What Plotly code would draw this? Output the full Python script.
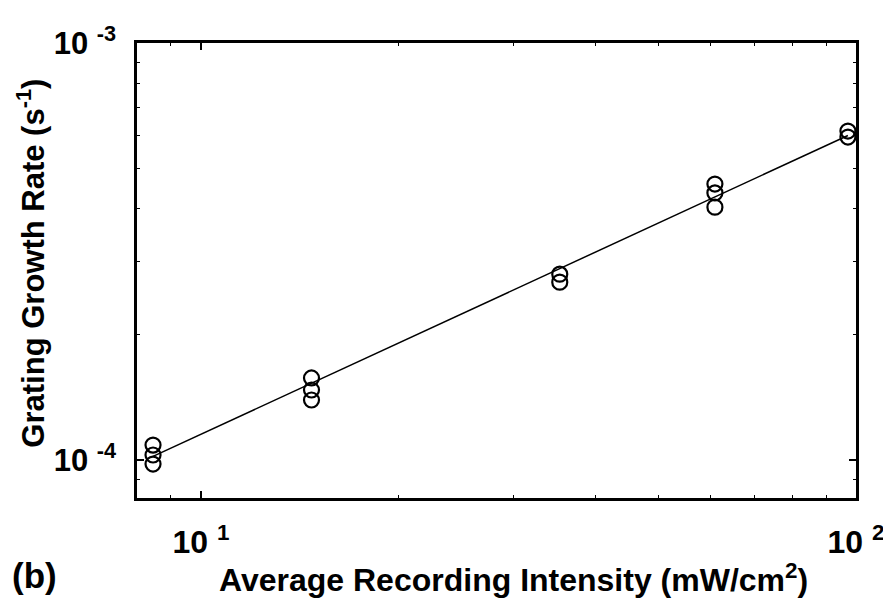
import plotly.graph_objects as go

# Measured data (intensity in mW/cm^2, growth rate in 1/s)
intensity = [8.45, 8.45, 8.45,
             14.75, 14.75, 14.75,
             35.3, 35.3,
             60.9, 60.9, 60.9,
             97.2, 97.2]
growth_rate = [1.086e-4, 1.028e-4, 0.978e-4,
               1.573e-4, 1.472e-4, 1.393e-4,
               2.79e-4, 2.67e-4,
               4.59e-4, 4.37e-4, 4.04e-4,
               6.15e-4, 5.95e-4]

# Power-law fit line endpoints
fit_intensity = [8.45, 97.2]
fit_rate = [1.02e-4, 6.0e-4]

x_tickvals = [10, 100]
x_ticktext = ["<b>10 <sup>1</sup></b>", "<b>10 <sup>2</sup></b>"]
x_minor = [9, 20, 30, 40, 50, 60, 70, 80, 90]
y_tickvals = [1e-4, 1e-3]
y_ticktext = ["<b>10 <sup>-4</sup></b>", "<b>10 <sup>-3</sup></b>"]
y_minor = [9e-5, 2e-4, 3e-4, 4e-4, 5e-4, 6e-4, 7e-4, 8e-4, 9e-4]

FONT = "Liberation Sans, Arial, Helvetica, sans-serif"

fig = go.Figure()
fig.add_trace(go.Scatter(
    x=fit_intensity, y=fit_rate, mode="lines",
    line=dict(color="black", width=1.5), showlegend=False))
fig.add_trace(go.Scatter(
    x=intensity, y=growth_rate, mode="markers",
    marker=dict(symbol="circle-open", size=15, color="black",
                line=dict(width=2.2, color="black")),
    showlegend=False))

axis_common = dict(
    showgrid=False, zeroline=False, showline=True, linecolor="black",
    linewidth=2.5, mirror="allticks", ticks="inside", ticklen=7,
    tickwidth=1.5, tickcolor="black", automargin=False,
)

fig.update_xaxes(
    type="log", range=[0.9024, 2.0],
    tickvals=x_tickvals, ticktext=x_ticktext,
    minor=dict(tickvals=x_minor, ticks="inside", ticklen=3, tickcolor="black", tickwidth=1),
    tickfont=dict(family=FONT, size=32, color="black"),
    ticklabelstandoff=14,
    **axis_common)
fig.update_yaxes(
    type="log", range=[-4.0911, -3.0],
    tickvals=y_tickvals, ticktext=y_ticktext,
    minor=dict(tickvals=y_minor, ticks="inside", ticklen=3, tickcolor="black", tickwidth=1),
    tickfont=dict(family=FONT, size=31, color="black"),
    ticklabelstandoff=12,
    **axis_common)

fig.add_annotation(
    text="<b>Average Recording Intensity (mW/cm<sup>2</sup>)</b>",
    xref="paper", yref="paper", x=0.524, y=-0.175, xanchor="center", yanchor="middle",
    showarrow=False, font=dict(family=FONT, size=32, color="black"))
fig.add_annotation(
    text="<b>Grating Growth Rate (s<sup>-1</sup>)</b>",
    xref="paper", yref="paper", x=-0.148, y=0.5164, xanchor="center", yanchor="middle",
    textangle=-90, showarrow=False, font=dict(family=FONT, size=31, color="black"))
fig.add_annotation(
    text="<b>(b)</b>",
    xref="paper", yref="paper", x=-0.177, y=-0.17, xanchor="left", yanchor="middle",
    showarrow=False, font=dict(family=FONT, size=35, color="black"))

# The page body has an 8px default margin, so the figure is sized to fit inside it
fig.update_layout(
    width=883, height=596,
    margin=dict(l=129, r=35, t=35, b=106),
    paper_bgcolor="white", plot_bgcolor="white",
)

fig.write_html("out.html")
